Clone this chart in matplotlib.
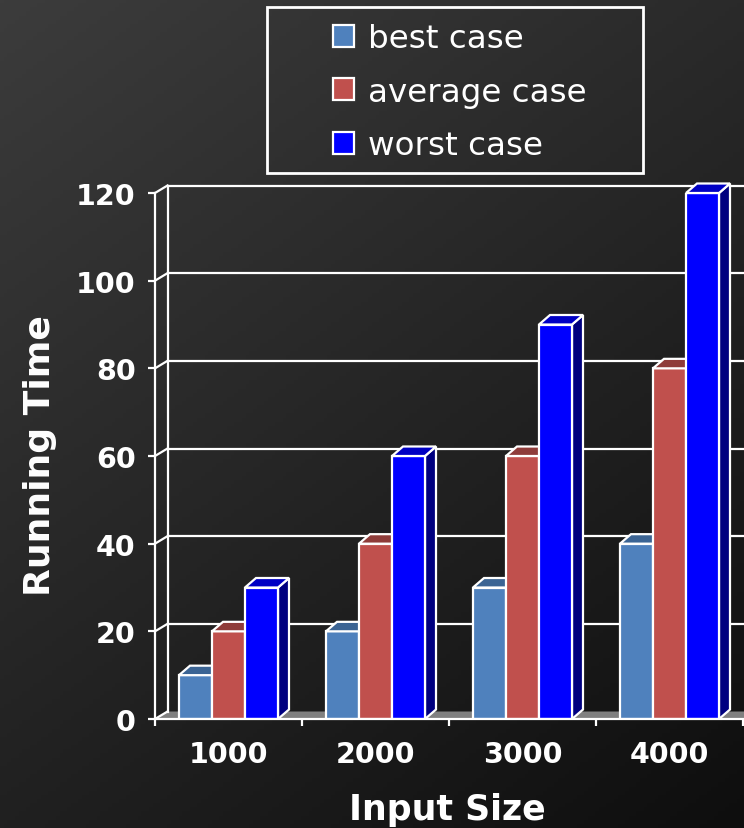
import numpy as np
import matplotlib.pyplot as plt
from matplotlib.patches import Polygon, Rectangle

# running time per input size for each case
sizes = ['1000', '2000', '3000', '4000']
best = [10, 20, 30, 40]
average = [20, 40, 60, 80]
worst = [30, 60, 90, 120]
labels = ['best case', 'average case', 'worst case']
y_ticks = [0, 20, 40, 60, 80, 100, 120]

front_colors = ['#4F81BD', '#C0504D', '#0000FF']
top_colors = ['#3B6494', '#8F3C3A', '#0000C4']
side_colors = ['#2C4A70', '#6E2E2C', '#000080']

W, H = 744, 829
fig = plt.figure(figsize=(W / 100, H / 100), dpi=100)

# dark diagonal gradient behind everything
bg = fig.add_axes([0, 0, 1, 1], zorder=-10)
u, v = np.meshgrid(np.linspace(0, 1, 200), np.linspace(0, 1, 200))
shade = (60 - 18 * u - 28 * v) / 255
bg.imshow(np.dstack([shade] * 3), extent=(0, 1, 0, 1), aspect='auto', origin='upper')
bg.axis('off')

x0_px, x1_px = 155, 743
y0_px, y1_px = 720, 194
ax = fig.add_axes([x0_px / W, (H - y0_px) / H, (x1_px - x0_px) / W, (y0_px - y1_px) / H])
ax.patch.set_alpha(0)
ax.set_xlim(-0.5, 3.5)
ax.set_ylim(0, 120)

# pixel -> data conversions for the 3D depth offsets
px_x = (x1_px - x0_px) / 4.0
px_y = (y0_px - y1_px) / 120.0
wall_dx, wall_dy = 12.5 / px_x, 7.5 / px_y
bar_dx, bar_dy = 11 / px_x, 9.5 / px_y
lw = 1.6

# floor
floor = Polygon([(-0.5, 0), (3.7, 0), (3.7 + wall_dx, wall_dy), (-0.5 + wall_dx, wall_dy)],
                closed=True, facecolor='#808080', edgecolor='none', zorder=1, clip_on=False)
ax.add_patch(floor)

# left wall edges and back-wall gridlines
ax.plot([-0.5 + wall_dx] * 2, [wall_dy, 120 + wall_dy], color='white', lw=lw, zorder=1.5, clip_on=False)
for t in y_ticks:
    ax.plot([-0.5, -0.5 + wall_dx], [t, t + wall_dy], color='white', lw=lw, zorder=1.5, clip_on=False)
    if t > 0:
        ax.plot([-0.5 + wall_dx, 4.0], [t + wall_dy, t + wall_dy], color='white', lw=lw,
                zorder=1.5, clip_on=False)

# bars with top and side faces
bw = 33 / px_x
for i, vals in enumerate([best, average, worst]):
    for j, val in enumerate(vals):
        left = j - 1.5 * bw + i * bw
        z = 3 + i
        ax.bar(left, val, width=bw, align='edge', color=front_colors[i], edgecolor='white',
               lw=lw, zorder=z, label=labels[i] if j == 0 else None)
        top = Polygon([(left, val), (left + bw, val), (left + bw + bar_dx, val + bar_dy),
                       (left + bar_dx, val + bar_dy)], closed=True, facecolor=top_colors[i],
                      edgecolor='white', lw=lw, zorder=z, clip_on=False)
        side = Polygon([(left + bw, 0), (left + bw + bar_dx, bar_dy), (left + bw + bar_dx, val + bar_dy),
                        (left + bw, val)], closed=True, facecolor=side_colors[i],
                       edgecolor='white', lw=lw, zorder=z - 0.1, clip_on=False)
        ax.add_patch(side)
        ax.add_patch(top)

for s in ['top', 'right']:
    ax.spines[s].set_visible(False)
for s in ['left', 'bottom']:
    ax.spines[s].set_color('white')
    ax.spines[s].set_linewidth(lw)
    ax.spines[s].set_zorder(6)

ax.set_yticks(y_ticks)
ax.set_yticklabels([str(t) for t in y_ticks])
ax.tick_params(axis='y', colors='white', length=5, width=lw, pad=9, labelsize=20.5)
ax.set_xticks([-0.5, 0.5, 1.5, 2.5, 3.5])
ax.set_xticklabels([])
ax.set_xticks(range(len(sizes)), minor=True)
ax.set_xticklabels(sizes, minor=True)
ax.tick_params(axis='x', which='major', colors='white', length=5, width=lw)
ax.tick_params(axis='x', which='minor', colors='white', length=0, pad=15, labelsize=20.5)
for lab in ax.get_yticklabels() + ax.get_xticklabels(minor=True):
    lab.set_fontweight('bold')

fig.text(40 / W, 1 - 456 / H, 'Running Time', rotation=90, ha='center', va='center',
         color='white', fontsize=26, fontweight='bold')
fig.text(447 / W, 1 - 810 / H, 'Input Size', ha='center', va='center',
         color='white', fontsize=25, fontweight='bold')

# legend inside a separate white frame
fig.patches.append(Rectangle((267 / W, 1 - 174 / H), 376 / W, 166 / H, transform=fig.transFigure,
                             facecolor='none', edgecolor='white', lw=2))
handles, names = ax.get_legend_handles_labels()
leg = fig.legend(handles, names, loc='upper left', bbox_to_anchor=(317 / W, 1 - 8 / H),
                 frameon=False, fontsize=23.4, handlelength=0.65, handleheight=0.65,
                 handletextpad=0.42, labelspacing=0.69, borderpad=0)
for txt in leg.get_texts():
    txt.set_color('white')

fig.savefig('out.png', dpi=100)
